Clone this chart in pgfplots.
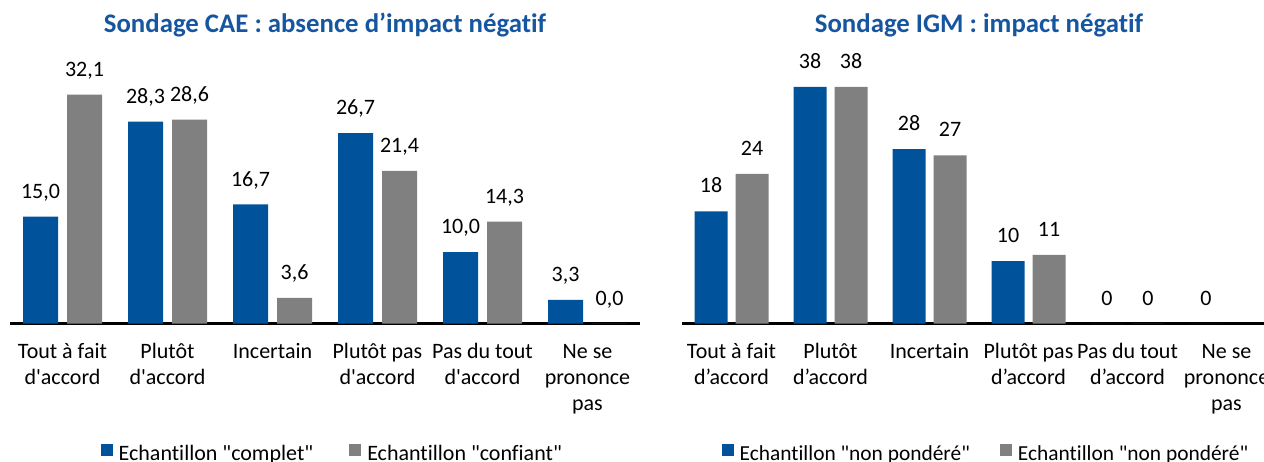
\documentclass[border=0pt]{standalone}
\usepackage{pgfplots}
\usepackage{pgfplotstable}
\pgfplotsset{compat=1.18}
\usepackage{fontspec}
\setmainfont{Carlito}[Ligatures={TeX,NoCommon}]

\definecolor{bleu}{RGB}{0,82,155}
\definecolor{gris}{RGB}{128,128,128}
\definecolor{titre}{RGB}{22,86,160}

% Sondage CAE
\pgfplotstableread{
x y lab
0 15.0 15,0
1 28.3 28,3
2 16.7 16,7
3 26.7 26,7
4 10.0 10,0
5 3.3 3,3
}\caeComplet
\pgfplotstableread{
x y lab
0 32.1 32,1
1 28.6 28,6
2 3.6 3,6
3 21.4 21,4
4 14.3 14,3
5 0.0 0,0
}\caeConfiant

% Sondage IGM
\pgfplotstableread{
x y lab
0 18 18
1 38 38
2 28 28
3 10 10
4 0 0
5 0 0
}\igmA
\pgfplotstableread{
x y lab
0 24 24
1 38 38
2 27 27
3 11 11
4 0 0
}\igmB

\newcommand{\q}{\textquotedbl}

\pgfplotsset{
  sondage/.style={
    scale only axis, height=136.75pt,
    xmin=-0.5, xmax=5.5, ymin=0,
    axis x line*=bottom, axis y line=none,
    axis line style={line width=1.3pt, black},
    xtick={0,...,5}, major tick length=0pt,
    xticklabel style={align=center, anchor=north, inner sep=0pt, yshift=-8.15pt,
      font=\fontsize{11}{13}\selectfont},
    clip=false,
    point meta=explicit symbolic,
    every axis title shift=0pt,
    title style={at={(0.5,1)}, anchor=base, yshift=8.5pt,
      font=\fontsize{13.4}{15}\selectfont\bfseries, text=titre},
    legend columns=2,
    legend style={at={(0.5,0)}, anchor=north, yshift=-60.25pt, draw=none, fill=none,
      inner sep=0pt, font=\fontsize{11}{13}\selectfont, nodes={inner sep=0pt},
      /tikz/every odd column/.append style={column sep=3pt}},
  },
  barre/.style 2 args={ybar, draw=none, fill=#1, bar shift=#2,
    nodes near coords={\pgfplotspointmeta},
    every node near coord/.append style={anchor=south, text depth=0pt, inner sep=0pt,
      xshift=#2, yshift=9pt, font=\fontsize{11}{13}\selectfont, text=black},
    legend image code/.code={\fill[#1] (0pt,-1pt) rectangle (6pt,5pt);}},
}

\begin{document}
\begin{tikzpicture}
\begin{axis}[sondage, at={(5pt,68.75pt)}, anchor=south west,
    width=315pt, ymax=38.36,
    title={Sondage CAE : absence d’impact négatif},
    xticklabels={{\strut Tout à fait\\d\textquotesingle accord},
                 {\strut Plutôt\\d\textquotesingle accord},
                 {\strut Incertain},
                 {\strut Plutôt pas\\d\textquotesingle accord},
                 {\strut Pas du tout\\d\textquotesingle accord},
                 {\strut Ne se\\prononce\\pas}},
    legend style={at={(0.51,0)},
      /tikz/every even column/.append style={column sep=18pt}}]
\addplot[barre={bleu}{-11pt}, bar width=17.5pt] table[x=x, y=y, meta=lab] {\caeComplet};
\addlegendentry{Echantillon \q complet\q}
\addplot[barre={gris}{11pt}, bar width=17.5pt] table[x=x, y=y, meta=lab] {\caeConfiant};
\addlegendentry{Echantillon \q confiant\q}
\end{axis}

\begin{axis}[sondage, at={(341pt,68.75pt)}, anchor=south west,
    width=297pt, ymax=43.9,
    title={Sondage IGM : impact négatif},
    xticklabels={{\strut Tout à fait\\d’accord},
                 {\strut Plutôt\\d’accord},
                 {\strut Incertain},
                 {\strut Plutôt pas\\d’accord},
                 {\strut Pas du tout\\d’accord},
                 {\strut Ne se\\prononce\\pas}},
    legend style={at={(0.51,0)}, font=\fontsize{10.7}{13}\selectfont,
      /tikz/every even column/.append style={column sep=15pt}}]
\addplot[barre={bleu}{-10.25pt}, bar width=16.5pt] table[x=x, y=y, meta=lab] {\igmA};
\addlegendentry{Echantillon \q non pondéré\q}
\addplot[barre={gris}{10.25pt}, bar width=16.5pt] table[x=x, y=y, meta=lab] {\igmB};
\addlegendentry{Echantillon \q non pondéré\q}
\end{axis}
\pgfresetboundingbox
\path (0,0) rectangle (632pt,230.5pt);
\end{tikzpicture}
\end{document}
